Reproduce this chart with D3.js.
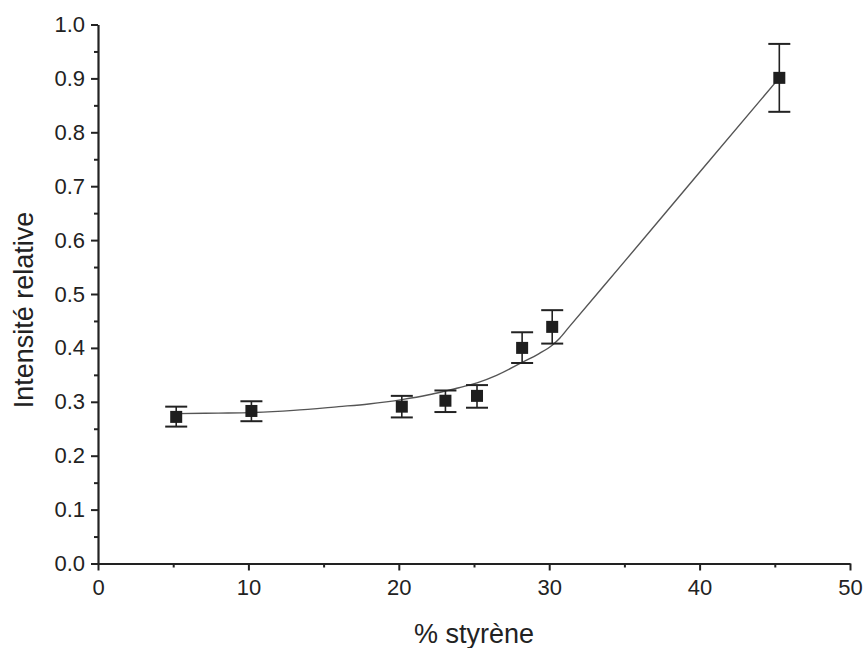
<!DOCTYPE html>
<html>
<head>
<meta charset="utf-8">
<script src="https://cdn.jsdelivr.net/npm/d3@7"></script>
<style>
  html, body { margin: 0; padding: 0; background: #fff; }
  svg { display: block; font-family: "Liberation Sans", Arial, sans-serif; }
</style>
</head>
<body>
<svg id="chart" width="864" height="648"></svg>
<script>
// ---- data ----
const styrene   = [5.2, 10.2, 20.2, 23.1, 25.2, 28.2, 30.2, 45.3];
const intensity = [0.272, 0.283, 0.291, 0.302, 0.311, 0.400, 0.439, 0.901];
const errLow    = [0.254, 0.264, 0.271, 0.281, 0.289, 0.372, 0.408, 0.838];
const errHigh   = [0.291, 0.301, 0.311, 0.321, 0.331, 0.429, 0.470, 0.964];

// fitted guide curve
const fitX = [5.2, 8, 10.2, 13, 16, 18, 20.2, 22, 23.1, 24, 25.2, 26.5, 28.2, 29.3, 30.2, 30.7, 31.3, 35, 40, 45.3];
const fitY = [0.278, 0.279, 0.280, 0.284, 0.291, 0.296, 0.304, 0.313, 0.320, 0.326, 0.335, 0.349, 0.373, 0.389, 0.405, 0.418, 0.438, 0.560, 0.726, 0.901];

const xMajor = [0, 10, 20, 30, 40, 50];
const xMinor = [5, 15, 25, 35, 45];
const yMajor = [0.0, 0.1, 0.2, 0.3, 0.4, 0.5, 0.6, 0.7, 0.8, 0.9, 1.0];
const yMinor = [0.05, 0.15, 0.25, 0.35, 0.45, 0.55, 0.65, 0.75, 0.85, 0.95];

const xTitle = "% styrène";
const yTitle = "Intensité relative";

// ---- layout ----
const svg = d3.select("#chart");
const mLeft = 98, mRight = 850, mTop = 24.5, mBottom = 563.5;
const ink = "#222";

const x = d3.scaleLinear().domain([0, 50]).range([mLeft, mRight]);
const y = d3.scaleLinear().domain([0, 1]).range([mBottom, mTop]);

// minor ticks (no labels)
svg.append("g").attr("transform", `translate(0,${mBottom})`)
  .call(d3.axisBottom(x).tickValues(xMinor).tickSize(4).tickFormat(""))
  .call(g => g.select(".domain").remove())
  .call(g => g.selectAll("line").attr("stroke", ink).attr("stroke-width", 2));
svg.append("g").attr("transform", `translate(${mLeft},0)`)
  .call(d3.axisLeft(y).tickValues(yMinor).tickSize(4).tickFormat(""))
  .call(g => g.select(".domain").remove())
  .call(g => g.selectAll("line").attr("stroke", ink).attr("stroke-width", 2));

// major axes
const xAxis = svg.append("g").attr("transform", `translate(0,${mBottom})`)
  .call(d3.axisBottom(x).tickValues(xMajor).tickSize(7).tickSizeOuter(0).tickPadding(9).tickFormat(d3.format("d")));
const yAxis = svg.append("g").attr("transform", `translate(${mLeft},0)`)
  .call(d3.axisLeft(y).tickValues(yMajor).tickSize(7).tickSizeOuter(0).tickPadding(6).tickFormat(d3.format(".1f")));

[xAxis, yAxis].forEach(g => {
  g.select(".domain").attr("stroke", ink).attr("stroke-width", 2.2);
  g.selectAll(".tick line").attr("stroke", ink).attr("stroke-width", 2);
  g.selectAll(".tick text").attr("fill", ink).attr("font-size", 22)
    .attr("font-family", "'Liberation Sans', Arial, sans-serif");
});

// fitted curve
const line = d3.line().x(d => x(d[0])).y(d => y(d[1])).curve(d3.curveMonotoneX);
svg.append("path")
  .datum(fitX.map((v, i) => [v, fitY[i]]))
  .attr("d", line)
  .attr("fill", "none")
  .attr("stroke", "#555")
  .attr("stroke-width", 1.4);

// error bars
const pts = styrene.map((v, i) => ({x: v, y: intensity[i], lo: errLow[i], hi: errHigh[i]}));
const eb = svg.append("g").attr("stroke", ink);
eb.selectAll("line.v").data(pts).join("line").attr("class", "v")
  .attr("x1", d => x(d.x)).attr("x2", d => x(d.x))
  .attr("y1", d => y(d.lo)).attr("y2", d => y(d.hi))
  .attr("stroke-width", 1.6);
const capW = 11;
eb.selectAll("line.ct").data(pts).join("line").attr("class", "ct")
  .attr("x1", d => x(d.x) - capW).attr("x2", d => x(d.x) + capW)
  .attr("y1", d => y(d.hi)).attr("y2", d => y(d.hi))
  .attr("stroke-width", 2);
eb.selectAll("line.cb").data(pts).join("line").attr("class", "cb")
  .attr("x1", d => x(d.x) - capW).attr("x2", d => x(d.x) + capW)
  .attr("y1", d => y(d.lo)).attr("y2", d => y(d.lo))
  .attr("stroke-width", 2);

// square markers
const sq = 12;
svg.append("g").selectAll("rect").data(pts).join("rect")
  .attr("x", d => x(d.x) - sq / 2).attr("y", d => y(d.y) - sq / 2)
  .attr("width", sq).attr("height", sq)
  .attr("fill", "#1e1e1e");

// axis titles
svg.append("text")
  .attr("x", (mLeft + mRight) / 2).attr("y", 643)
  .attr("text-anchor", "middle").attr("font-size", 27).attr("fill", ink)
  .text(xTitle);
svg.append("text")
  .attr("transform", `translate(33,310) rotate(-90)`)
  .attr("text-anchor", "middle").attr("font-size", 27).attr("fill", ink)
  .text(yTitle);
</script>
</body>
</html>
